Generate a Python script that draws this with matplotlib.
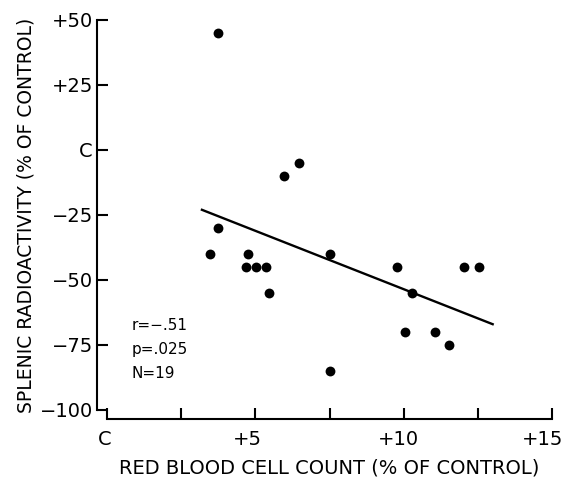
import matplotlib
matplotlib.use("Agg")
import matplotlib.pyplot as plt
import matplotlib.transforms as mtransforms
from matplotlib.ticker import FixedLocator

# valores (% do controle)
rbc_count = [3.75, 3.47, 4.74, 4.68, 5.02, 5.35, 5.47, 7.52, 9.79, 10.27,
             12.05, 12.55, 10.05, 11.06, 11.54, 7.52, 3.73, 5.96, 6.48]
splenic_radio = [-30, -40, -40, -45, -45, -45, -55, -40, -45, -55,
                 -45, -45, -70, -70, -75, -85, 45, -10, -5]

# reta de regressao (extremos lidos)
fit_x = [3.2, 13.0]
fit_y = [-23, -67]

x_ticks = [0, 5, 10, 15]
x_minor = [2.5, 7.5, 12.5]
x_labels = ["C", "+5", "+10", "+15"]
y_ticks = [50, 25, 0, -25, -50, -75, -100]
y_labels = ["+50", "+25", "C", "\u221225", "\u221250", "\u221275", "\u2212100"]

stats = ["r=\u2212.51", "p=.025", "N=19"]

plt.rcParams['font.family'] = ['DejaVu Sans']

fig = plt.figure(figsize=(5.65, 4.8), dpi=100)
ax = fig.add_axes([107 / 565, 1 - 410 / 480, 445 / 565, 390 / 480])

ax.scatter(rbc_count, splenic_radio, s=50, color="black", zorder=3, linewidths=0)
ax.plot(fit_x, fit_y, color="black", lw=1.7)

ax.set_xlim(0, 15)
ax.set_ylim(-100, 50)

ax.spines['top'].set_visible(False)
ax.spines['right'].set_visible(False)
ax.spines['left'].set_position(('outward', 7.2))
ax.spines['bottom'].set_position(('outward', 6.5))
ax.spines['left'].set_linewidth(1.5)
ax.spines['bottom'].set_linewidth(1.5)

ax.set_xticks(x_ticks)
ax.set_xticklabels(x_labels)
ax.xaxis.set_minor_locator(FixedLocator(x_minor))
ax.set_yticks(y_ticks)
ax.set_yticklabels(y_labels)

ax.tick_params(axis='both', which='both', direction='in', length=8, width=1.5,
               labelsize=14)
ax.tick_params(axis='x', pad=8)
ax.tick_params(axis='y', pad=3)

# rotulos do eixo x levemente deslocados para a esquerda, como no original
shifts = [-2, -8, -5, -9]
for lbl, dx in zip(ax.get_xticklabels(), shifts):
    lbl.set_transform(lbl.get_transform() + mtransforms.ScaledTranslation(dx / 100, 0, fig.dpi_scale_trans))

ax.set_xlabel("RED BLOOD CELL COUNT (% OF CONTROL)", fontsize=14, labelpad=7)
ax.set_ylabel("SPLENIC RADIOACTIVITY (% OF CONTROL)", fontsize=13.5, labelpad=3)

for i, t in enumerate(stats):
    ax.text(0.82, -67.4 - 9.2 * i, t, fontsize=11, va='center', ha='left')

fig.savefig("out.png", dpi=100)
